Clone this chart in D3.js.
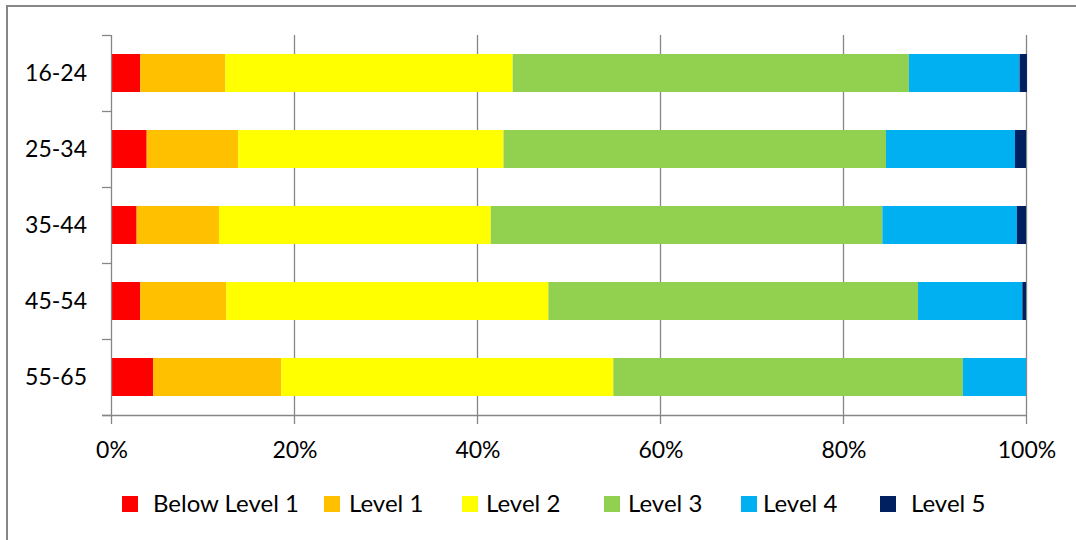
<!DOCTYPE html>
<html>
<head>
<meta charset="utf-8">
<script src="https://cdn.jsdelivr.net/npm/d3@7"></script>
<style>
  body { margin: 0; background: #fff; }
  text { font-family: Lato, "Liberation Sans", sans-serif; fill: #000; }
</style>
</head>
<body>
<div id="chart"></div>
<script>
// Categories and series (percent of each age group)
const ageGroups = ["16-24", "25-34", "35-44", "45-54", "55-65"];
const levels = ["Below Level 1", "Level 1", "Level 2", "Level 3", "Level 4", "Level 5"];
const belowLevel1 = [3.2, 3.9, 2.8, 3.2, 4.6];
const level1 = [9.3, 10.0, 9.0, 9.4, 14.0];
const level2 = [31.4, 29.0, 29.7, 35.2, 36.3];
const level3 = [43.3, 41.8, 42.8, 40.4, 38.2];
const level4 = [12.1, 14.1, 14.7, 11.4, 6.9];
const level5 = [0.8, 1.2, 1.0, 0.4, 0.0];
const xTicks = [0, 20, 40, 60, 80, 100];

const colors = ["#FF0000", "#FFC000", "#FFFF00", "#92D050", "#00B0F0", "#002060"];
const gridColor = "#868686";

const W = 1076, H = 540;
const plot = { left: 111, right: 1026, top: 35, bottom: 415 };

// build rows for the stack
const series = [belowLevel1, level1, level2, level3, level4, level5];
const rows = ageGroups.map(function (g, i) {
  const r = { group: g };
  levels.forEach(function (l, j) { r[l] = series[j][i]; });
  return r;
});

const svg = d3.select("#chart").append("svg")
  .attr("width", W)
  .attr("height", H);

// outer frame (only top and left visible)
svg.append("path")
  .attr("d", "M7,545 L7,6 L1080,6")
  .attr("fill", "none")
  .attr("stroke", gridColor)
  .attr("stroke-width", 2);

const x = d3.scaleLinear().domain([0, 100]).range([plot.left, plot.right]);
const y = d3.scaleBand().domain(ageGroups).range([plot.top, plot.bottom])
  .paddingInner(0.5).paddingOuter(0.25);

// vertical gridlines
svg.append("g")
  .selectAll("line")
  .data(xTicks.slice(1))
  .enter().append("line")
  .attr("x1", d => x(d) + 0.5).attr("x2", d => x(d) + 0.5)
  .attr("y1", plot.top).attr("y2", plot.bottom)
  .attr("stroke", gridColor).attr("stroke-width", 1.3);

// stacked bars
const stack = d3.stack().keys(levels);
const stacked = stack(rows);

svg.append("g")
  .selectAll("g")
  .data(stacked)
  .enter().append("g")
  .attr("fill", (d, i) => colors[i])
  .selectAll("rect")
  .data(d => d)
  .enter().append("rect")
  .attr("x", d => x(d[0]))
  .attr("width", d => Math.max(0, x(d[1]) - x(d[0])))
  .attr("y", d => y(d.data.group))
  .attr("height", y.bandwidth());

// y axis line and ticks between categories
const step = y.step();
const yBounds = d3.range(ageGroups.length + 1).map(i => plot.top + i * step);
svg.append("line")
  .attr("x1", plot.left + 0.5).attr("x2", plot.left + 0.5)
  .attr("y1", plot.top).attr("y2", plot.bottom)
  .attr("stroke", gridColor).attr("stroke-width", 1.3);
svg.append("g")
  .selectAll("line")
  .data(yBounds)
  .enter().append("line")
  .attr("x1", plot.left - 9).attr("x2", plot.left)
  .attr("y1", d => d + 0.5).attr("y2", d => d + 0.5)
  .attr("stroke", gridColor).attr("stroke-width", 1.3);

// x axis line and ticks
svg.append("line")
  .attr("x1", plot.left - 9).attr("x2", plot.right + 0.5)
  .attr("y1", plot.bottom + 0.5).attr("y2", plot.bottom + 0.5)
  .attr("stroke", gridColor).attr("stroke-width", 1.3);
svg.append("g")
  .selectAll("line")
  .data(xTicks)
  .enter().append("line")
  .attr("x1", d => x(d) + 0.5).attr("x2", d => x(d) + 0.5)
  .attr("y1", plot.bottom).attr("y2", plot.bottom + 9)
  .attr("stroke", gridColor).attr("stroke-width", 1.3);

// category labels
svg.append("g")
  .selectAll("text")
  .data(ageGroups)
  .enter().append("text")
  .attr("x", 87)
  .attr("y", d => y(d) + y.bandwidth() / 2)
  .attr("dy", "0.36em")
  .attr("text-anchor", "end")
  .style("font-size", "23px")
  .text(d => d);

// percent labels
svg.append("g")
  .selectAll("text")
  .data(xTicks)
  .enter().append("text")
  .attr("x", d => x(d) + 1)
  .attr("y", 458)
  .attr("text-anchor", "middle")
  .style("font-size", "23px")
  .text(d => d + "%");

// legend
const legendX = [122, 324, 462, 604, 741, 880];
const legendGap = [31, 25, 24, 24, 22, 31];
const legend = svg.append("g")
  .selectAll("g")
  .data(levels)
  .enter().append("g")
  .attr("transform", (d, i) => "translate(" + legendX[i] + ",496)");
legend.append("rect")
  .attr("width", 16).attr("height", 16)
  .attr("fill", (d, i) => colors[i]);
legend.append("text")
  .attr("x", (d, i) => legendGap[i])
  .attr("y", 16)
  .style("font-size", "24px")
  .text(d => d);
</script>
</body>
</html>
